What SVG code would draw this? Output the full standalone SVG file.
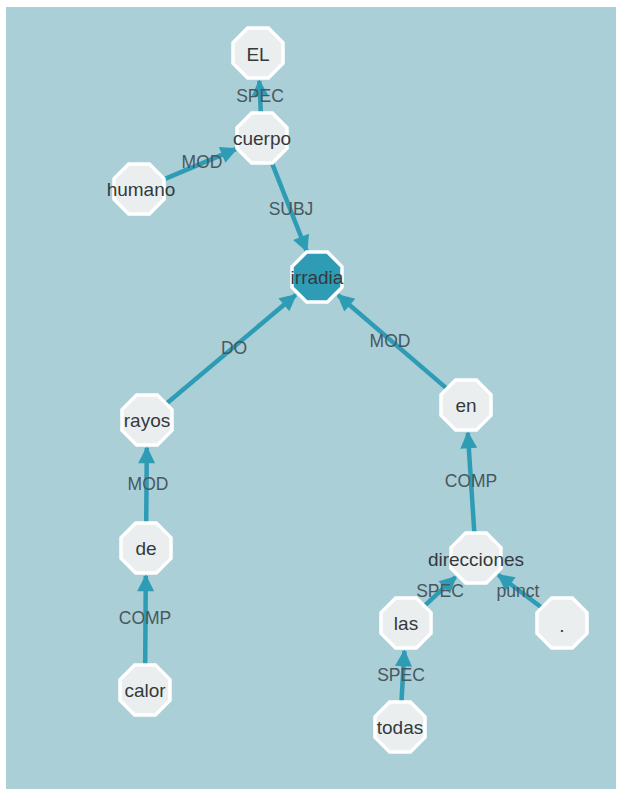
<svg xmlns="http://www.w3.org/2000/svg" width="618" height="789" viewBox="0 0 618 789">
<style>
.bg{fill:#aacfd7}
.e{stroke:#2f9cb6;stroke-width:4.5;fill:none;marker-end:url(#ah)}
.n{fill:#ebeeef;stroke:#ffffff;stroke-width:3.5}
.h{fill:#2f9cb6;stroke:#ffffff;stroke-width:3.5}
.t{font-family:"Liberation Sans",Arial,sans-serif;font-size:19px;fill:#333a3d;text-anchor:middle;dominant-baseline:central}
.l{font-family:"Liberation Sans",Arial,sans-serif;font-size:17.5px;fill:#48585e;text-anchor:middle;dominant-baseline:central}
</style>
<defs>
<marker id="ah" viewBox="0 0 10 10" refX="9" refY="5" markerWidth="19" markerHeight="17" markerUnits="userSpaceOnUse" orient="auto">
<path d="M0,0 L10,5 L0,10 z" fill="#2f9cb6"/>
</marker>
<polygon id="oct" points="-10.4,-25 10.4,-25 25,-10.4 25,10.4 10.4,25 -10.4,25 -25,10.4 -25,-10.4"/>
</defs>
<rect class="bg" x="6" y="7" width="610" height="782"/>
<g id="edges">
<line class="e" x1="260.8" y1="112" x2="259.3" y2="81"/>
<line class="e" x1="165" y1="178.9" x2="236.2" y2="148.9"/>
<line class="e" x1="271.6" y1="162.2" x2="306.7" y2="251"/>
<line class="e" x1="166.9" y1="403.3" x2="295.6" y2="295"/>
<line class="e" x1="446.3" y1="388.1" x2="338.2" y2="295.2"/>
<line class="e" x1="146.2" y1="522" x2="146.8" y2="448"/>
<line class="e" x1="145.2" y1="664" x2="145.8" y2="576"/>
<line class="e" x1="474.3" y1="532.1" x2="467.8" y2="433"/>
<line class="e" x1="425" y1="605.3" x2="455.5" y2="577.1"/>
<line class="e" x1="541.3" y1="607.3" x2="498.3" y2="574.9"/>
<line class="e" x1="401.5" y1="701" x2="404.4" y2="651"/>
</g>
<g id="edge-labels">
<text class="l" x="260" y="96">SPEC</text>
<text class="l" x="202" y="162">MOD</text>
<text class="l" x="291" y="209">SUBJ</text>
<text class="l" x="234" y="348">DO</text>
<text class="l" x="390" y="341">MOD</text>
<text class="l" x="148" y="484">MOD</text>
<text class="l" x="145" y="618">COMP</text>
<text class="l" x="471" y="481">COMP</text>
<text class="l" x="440" y="591">SPEC</text>
<text class="l" x="518" y="591">punct</text>
<text class="l" x="401" y="675">SPEC</text>
</g>
<g id="node-EL"><use href="#oct" class="n" x="258" y="53"/><text class="t" x="258" y="54">EL</text></g>
<g id="node-cuerpo"><use href="#oct" class="n" x="262" y="138"/><text class="t" x="262" y="138">cuerpo</text></g>
<g id="node-humano"><use href="#oct" class="n" x="139" y="189"/><text class="t" x="141" y="189">humano</text></g>
<g id="node-irradia"><use href="#oct" class="h" x="317" y="277"/><text class="t" x="317" y="277">irradia</text></g>
<g id="node-rayos"><use href="#oct" class="n" x="147" y="420"/><text class="t" x="147" y="420">rayos</text></g>
<g id="node-de"><use href="#oct" class="n" x="146" y="548"/><text class="t" x="146" y="548">de</text></g>
<g id="node-calor"><use href="#oct" class="n" x="145" y="690"/><text class="t" x="145" y="690">calor</text></g>
<g id="node-en"><use href="#oct" class="n" x="466" y="405"/><text class="t" x="466" y="405">en</text></g>
<g id="node-direcciones"><use href="#oct" class="n" x="476" y="558"/><text class="t" x="476" y="559">direcciones</text></g>
<g id="node-las"><use href="#oct" class="n" x="406" y="623"/><text class="t" x="406" y="623">las</text></g>
<g id="node-dot"><use href="#oct" class="n" x="562" y="623"/><text class="t" x="562" y="625">.</text></g>
<g id="node-todas"><use href="#oct" class="n" x="400" y="727"/><text class="t" x="400" y="727">todas</text></g>
</svg>
